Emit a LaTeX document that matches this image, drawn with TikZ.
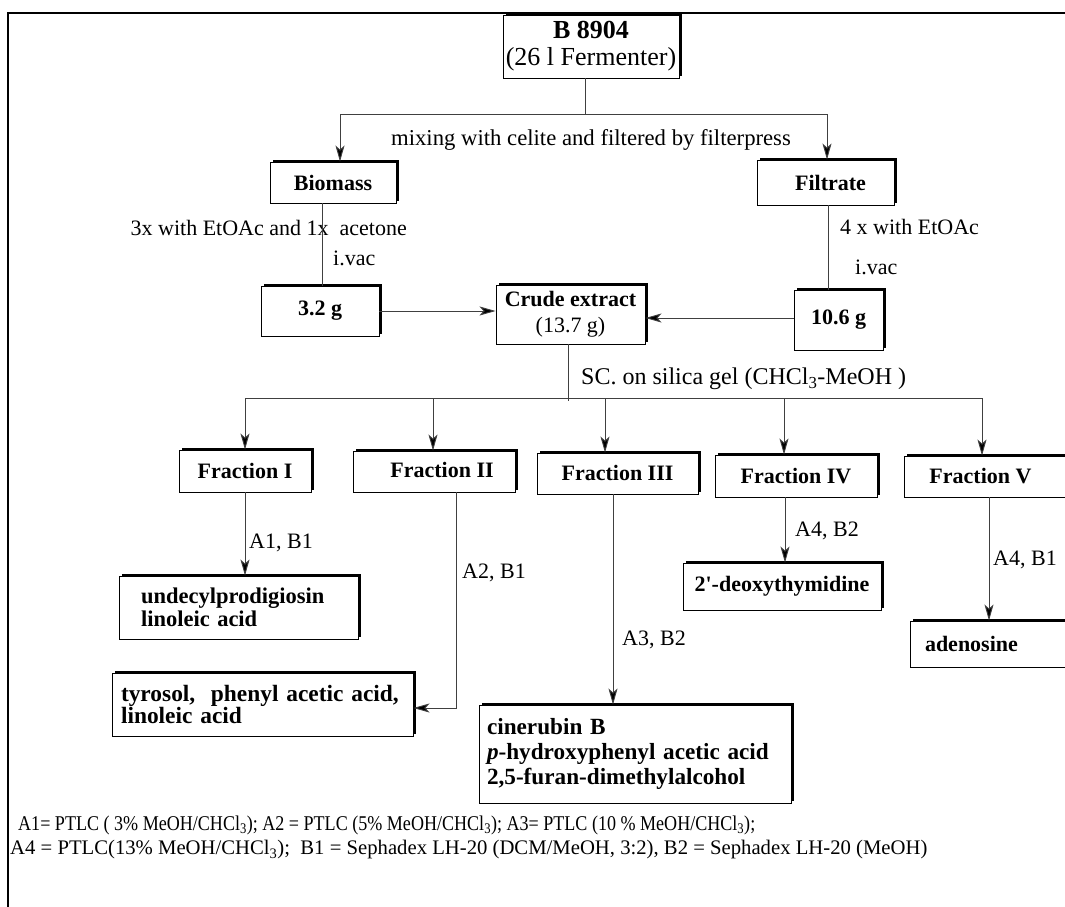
\documentclass[tikz,border=0pt]{standalone}
\usepackage{fontspec}
\setmainfont{Liberation Serif}
\usetikzlibrary{arrows.meta,shadows}
\begin{document}
\begin{tikzpicture}[x=1pt,y=-1pt,
  box/.style={draw=black, line width=0.9pt, fill=white, inner sep=0pt, align=center,
     general shadow={fill=black, shadow xshift=2.5pt, shadow yshift=2.5pt},
     font=\fontsize{22}{26}\selectfont\bfseries},
  conn/.style={line width=0.9pt, draw=black!75},
  arr/.style={conn, -{Stealth[length=16pt,width=9pt,inset=4pt,fill=black]}},
  lbl/.style={font=\fontsize{22}{26}\selectfont, inner sep=0pt},
  leg/.style={font=\fontsize{21}{25}\selectfont, inner sep=0pt, anchor=west},
]
\useasboundingbox (0,0) rectangle (1065,907);
\clip (0,0) rectangle (1065,907);
\fill[white] (0,0) rectangle (1065,907);
\draw[line width=2pt] (8,907) -- (8,13) -- (1065,13);

% top
\node[box, minimum width=176pt, minimum height=63pt, font=\fontsize{26}{27}\selectfont\bfseries] (src) at (591,46.5) {B 8904\\\mdseries (26 l Fermenter)};
\coordinate (split) at (585,114);
\node[box, minimum width=126pt, minimum height=41pt] (bio) at (333,182.5) {Biomass};
\node[box, minimum width=137pt, minimum height=45pt] (fil) at (825.5,182.5) {\hspace*{10pt}Filtrate};
\draw[conn] (src.south -| split) -- (split);
\draw[arr] (split) -| ([xshift=7pt]bio.north);
\draw[arr] (split) -| ([xshift=1.5pt]fil.north);
\node[lbl, font=\fontsize{22.7}{26}\selectfont] (mix) at (591,140) {mixing with celite and filtered by filterpress};

% extraction
\node[lbl, anchor=east] (ex1) at (407,228) {3x with EtOAc and 1x~ acetone};
\node[lbl, anchor=west] (vac1) at (333,258) {i.vac};
\node[lbl, anchor=west] (ex2) at (840,227) {4 x with EtOAc};
\node[lbl, anchor=west] (vac2) at (855,267) {i.vac};

\node[box, minimum width=118pt, minimum height=50pt] (m1) at (320,311) {3.2 g};
\node[box, minimum width=149pt, minimum height=59pt] (crude) at (570.5,314.5) {Crude extract\\\mdseries (13.7 g)};
\node[box, minimum width=89pt, minimum height=60pt] (m2) at (838.5,320) {10.6 g};

\draw[conn] ([xshift=-11pt]bio.south) -- ([xshift=-11pt]bio.south |- m1.north);
\draw[conn] ([xshift=2.5pt]fil.south) -- ([xshift=2.5pt]fil.south |- m2.north);
\draw[arr] (m1.east) -- (m1.east -| crude.west);
\draw[arr] ([yshift=2pt]m2.west) -- ([yshift=2pt]m2.west -| crude.east);

% column chromatography
\coordinate (split2) at (568,398);
\draw[conn] (crude.south -| split2) -- ([yshift=-3pt]split2);
\node[lbl, anchor=west, font=\fontsize{24}{26}\selectfont] (sc) at (581,379) {SC. on silica gel (CHCl\textsubscript{3}-MeOH )};

\node[box, minimum width=132pt, minimum height=42pt] (f1) at (245,471) {Fraction I};
\node[box, minimum width=162pt, minimum height=41pt] (f2) at (434,471.5) {\hspace*{16pt}\raisebox{3pt}{Fraction II}};
\node[box, minimum width=161pt, minimum height=41pt] (f3) at (617.5,473.5) {\raisebox{2pt}{Fraction III}};
\node[box, minimum width=162pt, minimum height=42pt] (f4) at (796,476) {Fraction IV};
\node[box, minimum width=171pt, minimum height=41pt] (f5) at (989.5,476.5) {\raisebox{-4pt}{Fraction V}\hspace*{18pt}};

\draw[arr] (split2) -| (f1.north);
\draw[arr] (split2) -| ([xshift=-1pt]f2.north);
\draw[arr] (split2) -| ([xshift=-12.5pt]f3.north);
\draw[arr] (split2) -| ([xshift=-12pt]f4.north);
\draw[arr] (split2) -| ([xshift=-7.5pt]f5.north);

% results
\node[box, align=left, text width=195pt, inner xsep=22pt, minimum height=63pt, font=\fontsize{22.5}{23}\selectfont\bfseries] (r1) at (238.5,607.5) {undecylprodigiosin\\linoleic acid};
\node[box, align=left, text width=283pt, inner xsep=9pt, minimum height=63pt, font=\fontsize{23.4}{22}\selectfont\bfseries] (r2) at (262.5,704.5) {tyrosol,~ phenyl acetic acid,\\linoleic acid};
\node[box, align=left, text width=296pt, inner xsep=8pt, minimum height=98pt, font=\fontsize{23.2}{25}\selectfont\bfseries] (r3) at (635,754) {cinerubin B\\\textit{p}-hydroxyphenyl acetic acid\\2,5-furan-dimethylalcohol};
\node[box, minimum width=198pt, minimum height=47pt] (r4) at (782,586.5) {2\textquotesingle-deoxythymidine};
\node[box, align=left, text width=135pt, inner xsep=15pt, minimum height=46pt] (r5) at (992.5,644) {adenosine};

\draw[arr] (f1.south) -- (f1.south |- r1.north);
\draw[arr] ([xshift=22pt]f2.south) |- ([yshift=-3.5pt]r2.east);
\draw[arr] ([xshift=-4.5pt]f3.south) -- ([xshift=-4.5pt]f3.south |- r3.north);
\draw[arr] ([xshift=-11pt]f4.south) -- ([xshift=-11pt]f4.south |- r4.north);
\draw[arr] ([xshift=-0.5pt]f5.south) -- ([xshift=-0.5pt]f5.south |- r5.north);

\node[lbl, anchor=west] (a1) at (249,543) {A1, B1};
\node[lbl, anchor=west] (a2) at (462,573) {A2, B1};
\node[lbl, anchor=west] (a3) at (622,640) {A3, B2};
\node[lbl, anchor=west] (a4) at (795,531) {A4, B2};
\node[lbl, anchor=west] (a5) at (993,560) {A4, B1};

% legend
\node[leg] (leg1) at (18,825) {\scalebox{0.86}[1]{A1= PTLC ( 3\% MeOH/CHCl\textsubscript{3}); A2 = PTLC (5\% MeOH/CHCl\textsubscript{3}); A3= PTLC (10 \% MeOH/CHCl\textsubscript{3});}};
\node[leg, font=\fontsize{20.7}{25}\selectfont] (leg2) at (10,850) {A4 = PTLC(13\% MeOH/CHCl\textsubscript{3});~ B1 = Sephadex LH-20 (DCM/MeOH, 3:2), B2 = Sephadex LH-20 (MeOH)};
\end{tikzpicture}
\end{document}
